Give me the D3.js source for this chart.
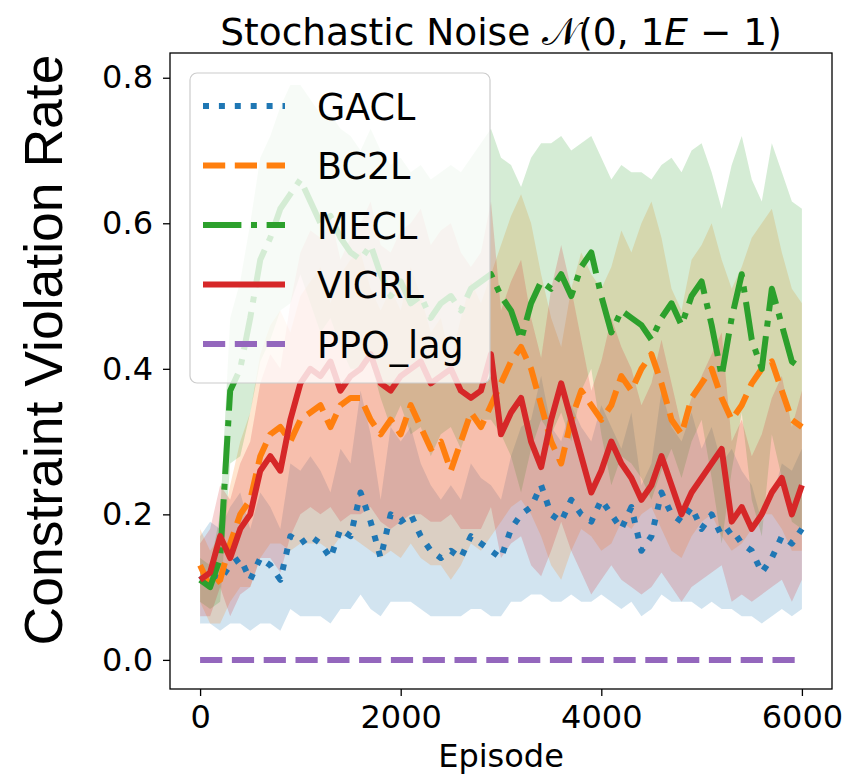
<!DOCTYPE html>
<html>
<head>
<meta charset="utf-8">
<script src="https://cdn.jsdelivr.net/npm/d3@7"></script>
<style>
  body { margin: 0; background: #fff; }
  text { font-family: "DejaVu Sans", sans-serif; }
</style>
</head>
<body>
<div id="chart"></div>
<script>
// episodes sampled every 100
const episodes = d3.range(0, 6001, 100);

const gaclMean = [0.11,0.12,0.11,0.13,0.14,0.11,0.14,0.13,0.11,0.17,
  0.16,0.17,0.16,0.14,0.18,0.17,0.23,0.19,0.14,0.20,
  0.19,0.20,0.17,0.15,0.14,0.15,0.14,0.17,0.16,0.15,
  0.14,0.18,0.20,0.21,0.24,0.20,0.19,0.22,0.20,0.19,
  0.22,0.20,0.18,0.21,0.15,0.17,0.23,0.20,0.19,0.21,
  0.18,0.20,0.17,0.18,0.16,0.15,0.12,0.14,0.17,0.16,0.18];
const gaclStd = [0.06,0.07,0.07,0.08,0.09,0.07,0.09,0.08,0.07,0.10,
  0.10,0.11,0.10,0.09,0.11,0.10,0.14,0.12,0.08,0.12,
  0.11,0.12,0.10,0.09,0.08,0.09,0.08,0.10,0.09,0.09,
  0.08,0.10,0.12,0.12,0.15,0.12,0.11,0.13,0.12,0.11,
  0.13,0.12,0.11,0.13,0.09,0.10,0.14,0.12,0.11,0.13,
  0.11,0.12,0.10,0.11,0.10,0.09,0.07,0.08,0.10,0.10,0.11];

const bc2lMean = [0.13,0.10,0.11,0.16,0.20,0.22,0.28,0.31,0.32,0.30,
  0.33,0.34,0.35,0.32,0.35,0.36,0.36,0.33,0.31,0.33,
  0.31,0.35,0.32,0.29,0.30,0.26,0.30,0.34,0.32,0.35,
  0.38,0.41,0.43,0.40,0.35,0.30,0.27,0.33,0.37,0.35,
  0.33,0.35,0.39,0.37,0.40,0.42,0.38,0.33,0.31,0.36,
  0.38,0.40,0.36,0.33,0.35,0.38,0.40,0.41,0.37,0.33,0.32];
const bc2lStd = [0.05,0.05,0.06,0.08,0.10,0.12,0.14,0.15,0.16,0.15,
  0.17,0.18,0.19,0.17,0.18,0.19,0.20,0.18,0.17,0.18,
  0.17,0.19,0.18,0.16,0.17,0.15,0.17,0.18,0.17,0.18,
  0.19,0.20,0.21,0.20,0.18,0.17,0.16,0.18,0.19,0.18,
  0.18,0.19,0.20,0.19,0.20,0.21,0.20,0.18,0.17,0.19,
  0.19,0.20,0.19,0.18,0.19,0.20,0.20,0.21,0.19,0.18,0.17];

const meclMean = [0.11,0.10,0.14,0.37,0.40,0.47,0.55,0.58,0.62,0.64,
  0.66,0.63,0.60,0.61,0.58,0.56,0.55,0.57,0.53,0.50,
  0.52,0.49,0.50,0.47,0.49,0.50,0.48,0.51,0.52,0.53,
  0.50,0.48,0.44,0.49,0.52,0.51,0.53,0.50,0.54,0.56,
  0.50,0.45,0.48,0.47,0.46,0.44,0.47,0.49,0.46,0.50,
  0.52,0.46,0.39,0.47,0.53,0.44,0.40,0.51,0.46,0.41,0.40];
const meclStd = [0.03,0.03,0.06,0.10,0.12,0.13,0.14,0.14,0.14,0.15,
  0.13,0.14,0.15,0.14,0.15,0.16,0.15,0.16,0.17,0.18,
  0.17,0.18,0.18,0.19,0.18,0.18,0.19,0.18,0.19,0.20,
  0.19,0.20,0.21,0.20,0.19,0.20,0.19,0.20,0.17,0.16,
  0.19,0.21,0.20,0.20,0.21,0.22,0.21,0.20,0.21,0.20,
  0.19,0.21,0.23,0.21,0.19,0.22,0.23,0.20,0.21,0.22,0.22];

const vicrlMean = [0.11,0.12,0.17,0.14,0.18,0.20,0.26,0.28,0.26,0.33,
  0.38,0.40,0.39,0.41,0.37,0.39,0.40,0.42,0.38,0.37,
  0.39,0.40,0.41,0.38,0.39,0.40,0.37,0.36,0.37,0.42,
  0.31,0.34,0.36,0.30,0.265,0.33,0.38,0.33,0.28,0.23,
  0.26,0.30,0.27,0.25,0.22,0.24,0.28,0.24,0.20,0.23,
  0.25,0.27,0.29,0.19,0.21,0.18,0.20,0.23,0.25,0.20,0.24];
const vicrlStd = [0.05,0.06,0.07,0.08,0.09,0.10,0.12,0.14,0.14,0.16,
  0.18,0.19,0.19,0.20,0.18,0.19,0.20,0.21,0.19,0.19,
  0.20,0.20,0.21,0.19,0.20,0.20,0.19,0.18,0.19,0.21,
  0.17,0.18,0.19,0.17,0.15,0.18,0.19,0.18,0.16,0.14,
  0.15,0.17,0.16,0.15,0.13,0.14,0.16,0.14,0.12,0.13,
  0.14,0.15,0.16,0.11,0.12,0.10,0.11,0.13,0.14,0.12,0.13];

const ppoMean = [0,0,0,0,0,0,0,0,0,0, 0,0,0,0,0,0,0,0,0,0,
  0,0,0,0,0,0,0,0,0,0, 0,0,0,0,0,0,0,0,0,0,
  0,0,0,0,0,0,0,0,0,0, 0,0,0,0,0,0,0,0,0,0,0];

const xTicks = [0, 2000, 4000, 6000];
const yTicks = [0.0, 0.2, 0.4, 0.6, 0.8];

const series = [
  { name: "GACL", color: "#1f77b4", dash: "6,9.9", mean: gaclMean, std: gaclStd },
  { name: "BC2L", color: "#ff7f0e", dash: "22.2,9.6", mean: bc2lMean, std: bc2lStd },
  { name: "MECL", color: "#2ca02c", dash: "38.4,9.6,6,9.6", mean: meclMean, std: meclStd },
  { name: "VICRL", color: "#d62728", dash: null, mean: vicrlMean, std: vicrlStd },
  { name: "PPO_lag", color: "#9467bd", dash: "22.2,9.6", mean: ppoMean, std: null }
];

const W = 849, H = 778;
const mLeft = 170, mRight = 832, mTop = 53, mBottom = 689;

const svg = d3.select("#chart").append("svg")
  .attr("width", W)
  .attr("height", H);

const x = d3.scaleLinear().domain([-300, 6300]).range([mLeft, mRight]);
const y = d3.scaleLinear().domain([-0.04, 0.834]).range([mBottom, mTop]);

const plot = svg.append("g");

// std bands first
series.filter(s => s.std).forEach(s => {
  const area = d3.area()
    .x((d, i) => x(episodes[i]))
    .y0((d, i) => y(s.mean[i] - s.std[i]))
    .y1((d, i) => y(s.mean[i] + s.std[i]));
  plot.append("path")
    .attr("d", area(s.mean))
    .attr("fill", s.color)
    .attr("fill-opacity", 0.2);
});

// mean lines
series.forEach(s => {
  const line = d3.line()
    .x((d, i) => x(episodes[i]))
    .y(d => y(d));
  plot.append("path")
    .attr("d", line(s.mean))
    .attr("fill", "none")
    .attr("stroke", s.color)
    .attr("stroke-width", 6)
    .attr("stroke-linejoin", "round")
    .attr("stroke-dasharray", s.dash);
});

// axes
const xAxis = svg.append("g")
  .attr("transform", `translate(0,${mBottom})`)
  .call(d3.axisBottom(x).tickValues(xTicks).tickFormat(d3.format("d")).tickSize(7).tickPadding(9));
const yAxis = svg.append("g")
  .attr("transform", `translate(${mLeft},0)`)
  .call(d3.axisLeft(y).tickValues(yTicks).tickFormat(d3.format(".1f")).tickSize(7).tickPadding(10));

[xAxis, yAxis].forEach(a => {
  a.select(".domain").remove();
  a.selectAll(".tick line").attr("stroke", "#000").attr("stroke-width", 1.3);
  a.selectAll(".tick text")
    .attr("font-size", 32)
    .attr("font-family", "DejaVu Sans, sans-serif")
    .attr("fill", "#000");
});

svg.append("rect")
  .attr("x", mLeft).attr("y", mTop)
  .attr("width", mRight - mLeft).attr("height", mBottom - mTop)
  .attr("fill", "none")
  .attr("stroke", "#000")
  .attr("stroke-width", 1.3);

// title
const title = svg.append("text")
  .attr("x", (mLeft + mRight) / 2)
  .attr("y", 45)
  .attr("text-anchor", "middle")
  .attr("font-size", 37.5)
  .attr("fill", "#000");
title.append("tspan").text("Stochastic Noise ");
title.append("tspan").text("\u{1D4A9}");
title.append("tspan").text("(0, 1");
title.append("tspan").attr("font-style", "italic").text("E");
title.append("tspan").text(" \u2212 1)");

svg.append("text")
  .attr("x", (mLeft + mRight) / 2)
  .attr("y", 767)
  .attr("text-anchor", "middle")
  .attr("font-size", 32)
  .attr("fill", "#000")
  .text("Episode");

svg.append("text")
  .attr("transform", "translate(62,350) rotate(-90)")
  .attr("text-anchor", "middle")
  .style("font-family", "'Liberation Sans', Arial, sans-serif")
  .attr("font-size", 53.5)
  .attr("fill", "#000")
  .text("Constraint Violation Rate");

// legend
const legend = svg.append("g");
legend.append("rect")
  .attr("x", 190).attr("y", 73)
  .attr("width", 300).attr("height", 310)
  .attr("rx", 7)
  .attr("fill", "#fff").attr("fill-opacity", 0.8)
  .attr("stroke", "#ccc").attr("stroke-width", 1.2);

series.forEach((s, i) => {
  const ly = 106 + i * 59.5;
  legend.append("line")
    .attr("x1", 203).attr("x2", 285)
    .attr("y1", ly).attr("y2", ly)
    .attr("stroke", s.color)
    .attr("stroke-width", 6)
    .attr("stroke-dasharray", s.dash);
  legend.append("text")
    .attr("x", 317).attr("y", ly + 13.5)
    .attr("font-size", 36.5)
    .attr("fill", "#000")
    .text(s.name);
});
</script>
</body>
</html>
